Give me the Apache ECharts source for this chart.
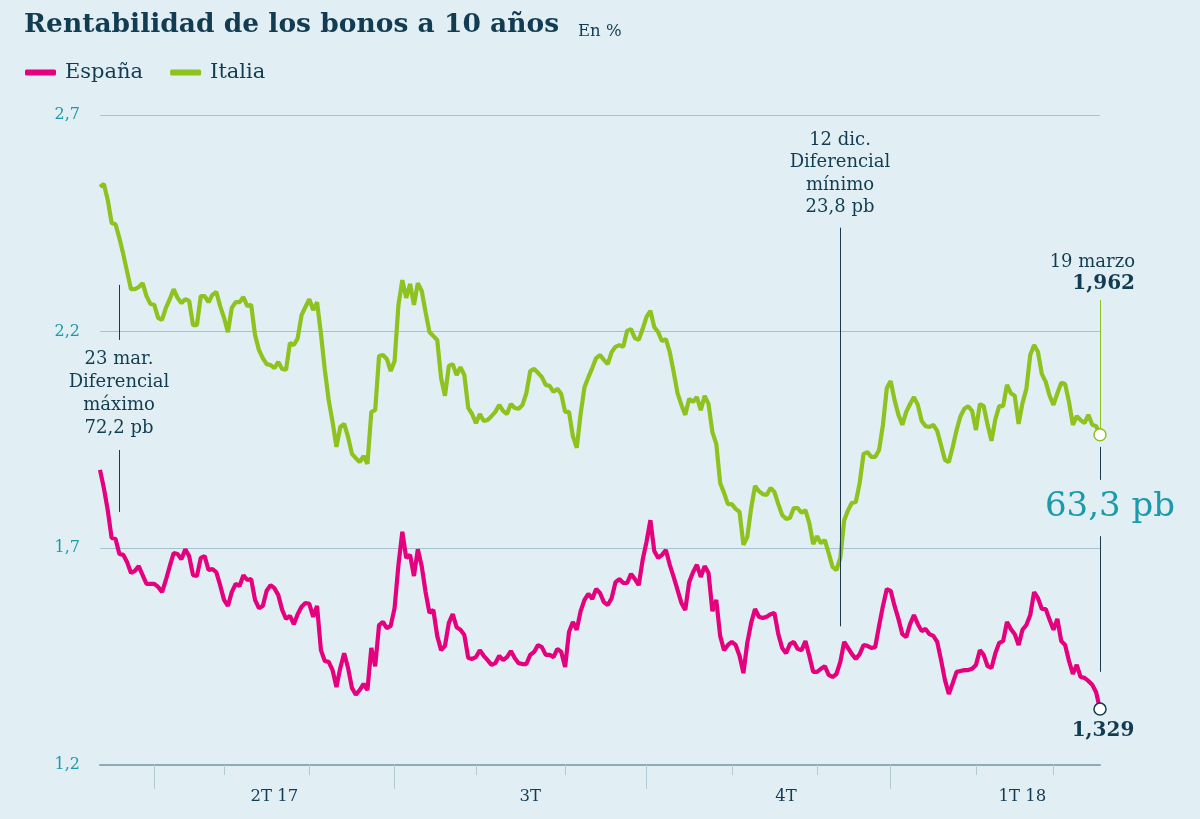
<!DOCTYPE html>
<html>
<head>
<meta charset="utf-8">
<script src="https://cdn.jsdelivr.net/npm/echarts@6/dist/echarts.min.js"></script>
<style>
html,body{margin:0;padding:0;background:#e1eff4;}
#chart{width:1200px;height:819px;}
</style>
</head>
<body>
<div id="chart"></div>
<script>
// ---- Data ----
const startDate = '2017-03-14';
const endDate = '2018-03-19';
const holidays = ['2017-04-14','2017-04-17','2017-05-01','2017-12-25','2017-12-26','2018-01-01'];
const quarterLabels = ['2T 17','3T','4T','1T 18'];
const quarterLabelDates = ['2017-05-19','2017-08-21','2017-11-21','2018-02-19'];
const yTicks = [1.2, 1.7, 2.2, 2.7];

const italia = [
2.534,2.541,2.504,2.451,2.448,2.416,2.379,2.338,2.298,2.298,
2.303,2.312,2.282,2.264,2.262,2.232,2.227,2.255,2.275,2.298,
2.278,2.266,2.275,2.271,2.215,2.215,2.282,2.282,2.268,2.285,
2.292,2.259,2.232,2.199,2.255,2.268,2.268,2.280,2.259,2.262,
2.192,2.158,2.139,2.125,2.123,2.116,2.130,2.114,2.112,2.174,
2.169,2.185,2.238,2.257,2.275,2.250,2.268,2.195,2.112,2.042,
1.992,1.934,1.980,1.987,1.957,1.918,1.908,1.899,1.913,1.895,
2.015,2.019,2.144,2.146,2.137,2.109,2.132,2.262,2.319,2.278,
2.310,2.262,2.312,2.294,2.245,2.199,2.190,2.181,2.093,2.052,
2.121,2.125,2.100,2.118,2.100,2.024,2.010,1.989,2.010,1.994,
1.996,2.005,2.015,2.031,2.017,2.010,2.033,2.024,2.022,2.031,
2.058,2.109,2.114,2.105,2.095,2.077,2.075,2.061,2.068,2.056,
2.015,2.015,1.959,1.932,2.010,2.072,2.095,2.116,2.139,2.146,
2.135,2.125,2.153,2.165,2.169,2.165,2.202,2.206,2.185,2.181,
2.206,2.234,2.248,2.211,2.199,2.178,2.183,2.153,2.107,2.058,
2.031,2.008,2.045,2.038,2.049,2.019,2.052,2.033,1.968,1.941,
1.851,1.828,1.802,1.802,1.791,1.784,1.708,1.726,1.793,1.844,
1.832,1.825,1.823,1.839,1.830,1.802,1.777,1.768,1.770,1.793,
1.793,1.782,1.788,1.758,1.710,1.728,1.712,1.719,1.689,1.657,
1.650,1.678,1.765,1.788,1.805,1.807,1.851,1.918,1.922,1.911,
1.911,1.927,1.985,2.070,2.086,2.042,2.008,1.985,2.015,2.033,
2.049,2.031,1.994,1.982,1.980,1.985,1.971,1.938,1.904,1.899,
1.934,1.973,2.005,2.022,2.028,2.017,1.973,2.033,2.028,1.985,
1.948,1.998,2.028,2.028,2.077,2.058,2.052,1.987,2.035,2.068,
2.146,2.169,2.153,2.102,2.084,2.052,2.031,2.058,2.082,2.079,
2.038,1.985,2.005,1.996,1.989,2.008,1.985,1.982,1.962
];

const espana = [
1.881,1.839,1.788,1.724,1.722,1.687,1.685,1.668,1.643,1.648,
1.659,1.638,1.618,1.618,1.618,1.611,1.599,1.627,1.659,1.689,
1.687,1.675,1.698,1.682,1.638,1.636,1.678,1.682,1.650,1.652,
1.645,1.615,1.581,1.567,1.599,1.618,1.613,1.638,1.627,1.629,
1.581,1.562,1.567,1.602,1.615,1.608,1.592,1.558,1.537,1.544,
1.525,1.548,1.565,1.574,1.572,1.542,1.567,1.465,1.440,1.438,
1.419,1.380,1.424,1.458,1.424,1.378,1.362,1.373,1.387,1.373,
1.470,1.428,1.523,1.530,1.516,1.521,1.562,1.662,1.738,1.678,
1.685,1.636,1.698,1.659,1.599,1.551,1.558,1.498,1.465,1.475,
1.528,1.548,1.518,1.512,1.500,1.447,1.445,1.449,1.465,1.452,
1.442,1.431,1.435,1.452,1.442,1.449,1.463,1.447,1.435,1.433,
1.433,1.454,1.461,1.477,1.472,1.454,1.454,1.449,1.468,1.461,
1.426,1.507,1.530,1.512,1.555,1.581,1.595,1.583,1.606,1.597,
1.576,1.569,1.585,1.622,1.629,1.620,1.620,1.641,1.629,1.615,
1.673,1.715,1.765,1.694,1.678,1.685,1.696,1.662,1.634,1.604,
1.574,1.558,1.622,1.645,1.662,1.634,1.659,1.643,1.555,1.581,
1.498,1.465,1.477,1.484,1.477,1.452,1.412,1.482,1.528,1.560,
1.542,1.539,1.542,1.548,1.551,1.502,1.470,1.458,1.479,1.484,
1.468,1.465,1.486,1.452,1.415,1.415,1.422,1.428,1.408,1.403,
1.410,1.438,1.484,1.470,1.456,1.445,1.456,1.477,1.475,1.470,
1.472,1.521,1.567,1.606,1.602,1.567,1.537,1.502,1.495,1.525,
1.546,1.525,1.509,1.514,1.502,1.498,1.484,1.442,1.396,1.364,
1.389,1.415,1.417,1.419,1.419,1.422,1.431,1.465,1.454,1.428,
1.424,1.458,1.482,1.486,1.530,1.514,1.502,1.477,1.512,1.523,
1.546,1.599,1.585,1.560,1.560,1.535,1.512,1.537,1.486,1.477,
1.440,1.410,1.431,1.403,1.401,1.394,1.385,1.368,1.329
];

// trading-day categories (weekdays without market holidays)
function pad(n){return n<10?'0'+n:''+n;}
function fmt(d){return d.getUTCFullYear()+'-'+pad(d.getUTCMonth()+1)+'-'+pad(d.getUTCDate());}
const dates = [];
(function(){
  const p0 = startDate.split('-').map(Number), p1 = endDate.split('-').map(Number);
  let d = new Date(Date.UTC(p0[0], p0[1]-1, p0[2]));
  const end = new Date(Date.UTC(p1[0], p1[1]-1, p1[2]));
  while (d <= end) {
    const wd = d.getUTCDay();
    const s = fmt(d);
    if (wd !== 0 && wd !== 6 && holidays.indexOf(s) < 0) dates.push(s);
    d = new Date(d.getTime() + 86400000);
  }
})();

function monthOf(s){return +s.slice(5,7);}
function isMonthStart(i){return i>0 && monthOf(dates[i]) !== monthOf(dates[i-1]);}
function isQuarterStart(i){return isMonthStart(i) && [1,4,7,10].indexOf(monthOf(dates[i]))>=0;}

const lastIdx = dates.length - 1;
const maxSpreadIdx = dates.indexOf('2017-03-21');
const minSpreadIdx = dates.indexOf('2017-12-11');

// ---- Styles ----
const C_ES = '#e5007e', C_IT = '#8dc21f', C_TXT = '#123c52', C_TEAL = '#1b9aaa';
const SERIF = '"DejaVu Serif", "Liberation Serif", serif';

const chart = echarts.init(document.getElementById('chart'), null, {renderer:'canvas'});

const annLine = {color: '#1d3a4d', width: 1, type: 'solid'};
function seg(idx, v0, v1, style){
  return [{coord:[idx, v0], lineStyle: style}, {coord:[idx, v1]}];
}

chart.setOption({
  backgroundColor: '#e1eff4',
  animation: false,
  grid: {left: 100, right: 100, top: 115, bottom: 54, containLabel: false},
  legend: {
    data: ['España','Italia'],
    left: 20, top: 57,
    icon: 'roundRect', itemWidth: 31, itemHeight: 6, itemGap: 27,
    textStyle: {fontFamily: SERIF, fontSize: 21, color: C_TXT, padding: [0,0,0,4]}
  },
  xAxis: [
    {
      type: 'category', data: dates, boundaryGap: false,
      axisLine: {show: true, lineStyle: {color: '#8caab8', width: 2}},
      axisTick: {show: true, length: 10, interval: function(i){return isMonthStart(i);}, lineStyle: {color: '#b4cbd5', width: 1}},
      axisLabel: {
        show: true,
        interval: function(i, v){return quarterLabelDates.indexOf(v) >= 0;},
        formatter: function(v){const k = quarterLabelDates.indexOf(v); return k>=0 ? quarterLabels[k] : '';},
        margin: 23, color: C_TXT, fontFamily: SERIF, fontSize: 16.5
      },
      splitLine: {show: false}
    },
    {
      type: 'category', data: dates, boundaryGap: false, position: 'bottom',
      axisLine: {show: false},
      axisTick: {show: true, length: 24, interval: function(i){return isQuarterStart(i);}, lineStyle: {color: '#b4cbd5', width: 1}},
      axisLabel: {show: false},
      splitLine: {show: false}
    }
  ],
  yAxis: {
    type: 'value', min: yTicks[0], max: yTicks[yTicks.length-1], interval: 0.5,
    axisLine: {show: false}, axisTick: {show: false},
    axisLabel: {
      formatter: function(v){return v.toFixed(1).replace('.', ',');},
      color: C_TEAL, fontFamily: SERIF, fontSize: 16, margin: 20
    },
    splitLine: {show: true, lineStyle: {color: '#a7c2ce', width: 1}}
  },
  series: [
    {
      name: 'España', type: 'line', data: espana, showSymbol: false, symbol: 'none',
      lineStyle: {color: C_ES, width: 4.2}, itemStyle: {color: C_ES}, z: 3,
      markPoint: {
        symbol: 'circle', symbolSize: 12, silent: true,
        itemStyle: {color: '#ffffff', borderColor: C_TXT, borderWidth: 1.5},
        label: {show: false},
        data: [{coord: [lastIdx, espana[lastIdx]]}]
      }
    },
    {
      name: 'Italia', type: 'line', data: italia, showSymbol: false, symbol: 'none',
      lineStyle: {color: C_IT, width: 4.2}, itemStyle: {color: C_IT}, z: 3,
      markLine: {
        silent: true, symbol: ['none','none'], label: {show: false},
        lineStyle: annLine,
        data: [
          seg(maxSpreadIdx, 2.308, 2.181, annLine),
          seg(maxSpreadIdx, 1.927, 1.784, annLine),
          seg(minSpreadIdx, 2.44, 1.52, annLine),
          seg(lastIdx, 2.273, 1.975, {color: C_IT, width: 1, type: 'solid'}),
          seg(lastIdx, 1.934, 1.858, annLine),
          seg(lastIdx, 1.728, 1.415, annLine)
        ]
      },
      markPoint: {
        symbol: 'circle', symbolSize: 12, silent: true,
        itemStyle: {color: '#ffffff', borderColor: C_IT, borderWidth: 1.5},
        label: {show: false},
        data: [{coord: [lastIdx, italia[lastIdx]]}]
      }
    }
  ],
  graphic: [
    {type: 'text', left: 24, top: 12, style: {text: 'Rentabilidad de los bonos a 10 años', fill: C_TXT, font: 'bold 26.5px ' + SERIF}},
    {type: 'text', left: 578, top: 23, style: {text: 'En %', fill: C_TXT, font: '16.5px ' + SERIF}},
    {type: 'text', x: 119, y: 394, style: {text: '23 mar.\nDiferencial\nmáximo\n72,2 pb', fill: C_TXT, font: '18px ' + SERIF, lineHeight: 23, textAlign: 'center', textVerticalAlign: 'middle'}},
    {type: 'text', x: 840, y: 174, style: {text: '12 dic.\nDiferencial\nmínimo\n23,8 pb', fill: C_TXT, font: '18px ' + SERIF, lineHeight: 22.5, textAlign: 'center', textVerticalAlign: 'middle'}},
    {type: 'text', x: 1135, y: 262, style: {text: '19 marzo', fill: C_TXT, font: '18px ' + SERIF, textAlign: 'right', textVerticalAlign: 'middle'}},
    {type: 'text', x: 1135, y: 284, style: {text: '1,962', fill: C_TXT, font: 'bold 20px ' + SERIF, textAlign: 'right', textVerticalAlign: 'middle'}},
    {type: 'text', x: 1110, y: 507, style: {text: '63,3 pb', fill: C_TEAL, font: '34px ' + SERIF, textAlign: 'center', textVerticalAlign: 'middle'}},
    {type: 'text', x: 1103, y: 731, style: {text: '1,329', fill: C_TXT, font: 'bold 20px ' + SERIF, textAlign: 'center', textVerticalAlign: 'middle'}}
  ]
});
</script>
</body>
</html>
